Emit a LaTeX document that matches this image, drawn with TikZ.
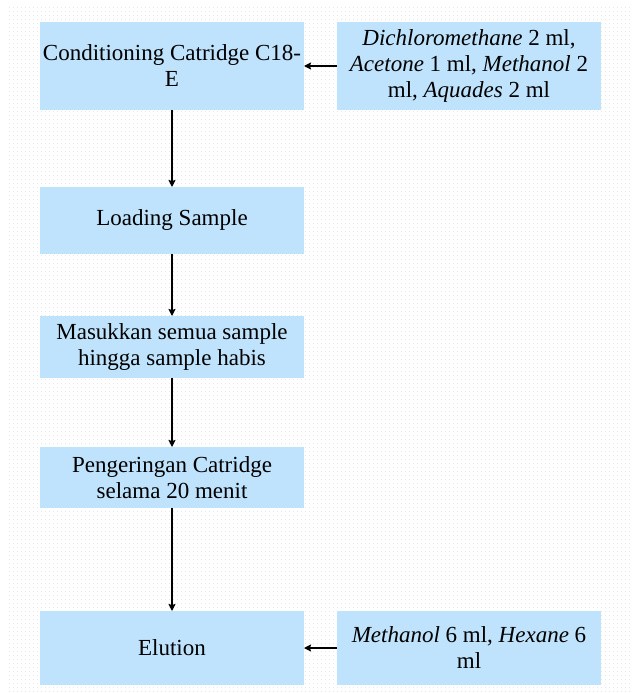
\documentclass[tikz,border=0pt]{standalone}
\usepackage{fontspec}
\setmainfont{Liberation Serif}
\usepackage{tikz}
\usetikzlibrary{positioning, arrows.meta}
\definecolor{boxblue}{RGB}{191,227,253}
\tikzstyle{arrow} = [line width=1.4pt,->,>={Stealth[length=7pt,width=7pt,inset=1pt]}]
\tikzstyle{dotline} = [line width=0.9pt, gray!18, dash pattern=on 0.9pt off 3.1pt]

\begin{document}
\begin{tikzpicture}[every node/.style={rectangle, fill=boxblue, inner sep=0pt, outer sep=0pt, minimum width=264pt, align=center, font=\fontsize{23}{26}\selectfont}]
  \useasboundingbox (0pt,0pt) rectangle (632pt,-693pt);

  % Dotted background
  \foreach \y in {7,11,...,691}
    \draw[dotline] (9pt,-\y pt) -- (632pt,-\y pt);

  % Main steps
  \node[minimum height=88pt] (cond) at (172pt,-66pt) {Conditioning Catridge C18-\\E};
  \node[minimum height=67pt, below=77pt of cond] (load) {Loading Sample};
  \node[minimum height=62pt, below=62pt of load] (masuk) {Masukkan semua sample\\hingga sample habis};
  \node[minimum height=61pt, below=69pt of masuk] (kering) {Pengeringan Catridge\\selama 20 menit};
  \node[minimum height=74pt, below=103pt of kering] (elut) {Elution};

  % Solvents
  \node[minimum height=88pt, right=33pt of cond] (solv1) {\textit{Dichloromethane} 2 ml,\\\textit{Acetone} 1 ml, \textit{Methanol} 2\\ml, \textit{Aquades} 2 ml};
  \node[minimum height=74pt, right=33pt of elut] (solv2) {\textit{Methanol} 6 ml, \textit{Hexane} 6\\ml};

  % Arrows
  \draw[arrow] (cond) -- (load);
  \draw[arrow] (load) -- (masuk);
  \draw[arrow] (masuk) -- (kering);
  \draw[arrow] (kering) -- (elut);
  \draw[arrow] (solv1) -- (cond);
  \draw[arrow] (solv2) -- (elut);
\end{tikzpicture}
\end{document}
